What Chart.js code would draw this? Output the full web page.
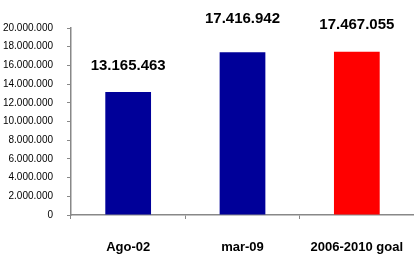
<!DOCTYPE html>
<html>
<head>
<meta charset="utf-8">
<script src="https://cdn.jsdelivr.net/npm/chart.js@4"></script>
<style>
  html, body { margin: 0; padding: 0; background: #fff; }
  #wrap { width: 414px; height: 255px; position: relative; }
</style>
</head>
<body>
<div id="wrap"><canvas id="chart"></canvas></div>
<script>
const categories = ['Ago-02', 'mar-09', '2006-2010 goal'];
const values     = [13165463, 17416942, 17467055];
const barColors  = ['#000099', '#000099', '#ff0000'];
const yTicks     = [0, 2000000, 4000000, 6000000, 8000000, 10000000, 12000000, 14000000, 16000000, 18000000, 20000000];

// distance of each value label above its bar (px)
const labelGap = [26, 33, 27];

const fmt = v => String(v).replace(/\B(?=(\d{3})+(?!\d))/g, '.');

const valueLabels = {
  id: 'valueLabels',
  afterDatasetsDraw(chart) {
    const ctx = chart.ctx;
    const meta = chart.getDatasetMeta(0);
    ctx.save();
    ctx.font = 'bold 15px "Liberation Sans", Arial, sans-serif';
    ctx.fillStyle = '#000';
    ctx.textAlign = 'center';
    ctx.textBaseline = 'middle';
    meta.data.forEach((bar, i) => {
      ctx.fillText(fmt(values[i]), bar.x, bar.y - labelGap[i]);
    });
    ctx.restore();
  }
};

new Chart(document.getElementById('chart'), {
  type: 'bar',
  data: {
    labels: categories,
    datasets: [{
      data: values,
      backgroundColor: barColors,
      borderWidth: 0,
      barPercentage: 0.8,
      categoryPercentage: 0.5
    }]
  },
  options: {
    responsive: true,
    maintainAspectRatio: false,
    animation: false,
    layout: { padding: { top: 28, right: 0, bottom: 0, left: 0 } },
    plugins: { legend: { display: false }, tooltip: { enabled: false } },
    scales: {
      x: {
        grid: { display: true, drawOnChartArea: false, drawTicks: true, tickLength: 4, color: '#888', offset: true },
        border: { color: '#888', width: 1.5 },
        ticks: {
          color: '#000',
          padding: 21,
          maxRotation: 0,
          autoSkip: false,
          font: { family: '"Liberation Sans", Arial, sans-serif', size: 13, weight: 'bold' }
        },
        afterFit: s => { s.height = 40; s.paddingLeft = 0; s.paddingRight = 0; }
      },
      y: {
        min: 0,
        max: 20000000,
        afterBuildTicks: s => { s.ticks = yTicks.map(v => ({ value: v })); },
        grid: { display: true, drawOnChartArea: false, drawTicks: true, tickLength: 4, color: '#888' },
        border: { color: '#888', width: 1.5 },
        ticks: {
          color: '#000',
          padding: 14,
          font: { family: '"Liberation Sans", Arial, sans-serif', size: 10 },
          callback: v => fmt(v)
        },
        afterFit: s => { s.width = 71; s.paddingTop = 0; s.paddingBottom = 0; }
      }
    }
  },
  plugins: [valueLabels]
});
</script>
</body>
</html>
